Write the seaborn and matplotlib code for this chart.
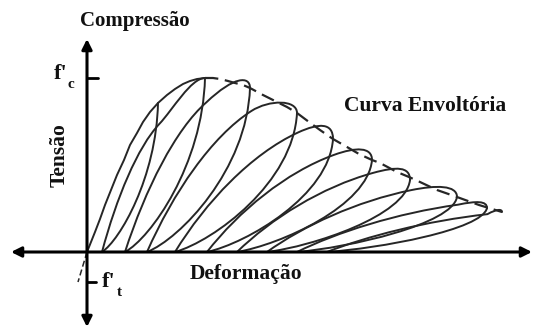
import numpy as np
import pandas as pd
import matplotlib
matplotlib.use("Agg")
import matplotlib.pyplot as plt
from matplotlib.path import Path
from matplotlib.patches import PathPatch
import seaborn as sns

# Envelope curve (strain, stress) in drawing units
env_rise_x = [0, 4, 8, 13, 18, 24, 30, 37, 43, 50, 56, 63, 71, 80, 88, 96, 103, 110, 118]
env_rise_y = [0, 10, 20, 33, 47, 62, 77, 92, 107, 119, 130, 140, 149, 157, 163, 168, 171, 173, 174]
env_fall_x = [118, 126, 133, 141, 148, 156, 163, 176, 190, 200, 210, 222, 233, 246, 260, 272,
              285, 293, 310, 322, 333, 350, 370, 392, 415]
env_fall_y = [174, 174, 173, 171, 169, 167, 164, 157, 150, 145, 139, 130, 122, 113, 105, 98,
              92, 89, 80, 75, 70, 62, 55, 47, 40]
tension_x = [0, -9]
tension_y = [0, -30]

# Unloading points on the envelope and residual strains of each cycle
peak_x = [71, 118, 163, 210, 246, 285, 323, 370, 400, 415]
peak_y = [149, 174, 164, 139, 113, 92, 72, 55, 44, 40]
residual_x = [15, 38, 60, 88, 120, 150, 180, 210, 240]

fc_level = 174
ft_level = -30

LINE = "#262626"

sns.set_style("white")
fig = plt.figure(figsize=(5.34, 3.29), dpi=100)
ax = fig.add_axes([0, 0, 1, 1])
ax.set_xlim(-87, 447)
ax.set_ylim(-77, 252)
ax.axis("off")

serif = ["Liberation Serif", "DejaVu Serif"]
style = dict(edgecolor=LINE, lw=1.4, capstyle="round", joinstyle="round", fill=False, zorder=3)


def bezier_path(points):
    codes = [Path.MOVETO] + [Path.CURVE4] * (len(points) - 1)
    ax.add_patch(PathPatch(Path(points, codes), **style))


# unloading branches: leave the envelope vertically, flatten towards the residual strain
for k, xr in enumerate(residual_x):
    xt, yt = peak_x[k], peak_y[k]
    dx = xt - xr
    bezier_path([(xt, yt), (xt - 0.03 * dx, yt * 0.5), (xr + 0.32 * dx, yt * 0.08), (xr, 0)])

# reloading branches: near-straight rise, crossing below the last unloading point,
# then a rounded cap that meets the envelope at the next unloading point
for k, xr in enumerate(residual_x):
    xa, ya = peak_x[k], peak_y[k]
    xb, yb = peak_x[k + 1], peak_y[k + 1]
    gap = xb - xa
    xc, yc = xa + 0.03 * gap, 0.86 * ya
    p1 = (xr + 0.25 * (xc - xr), 0.42 * yc)
    p2 = (xr + 0.62 * (xc - xr), 0.82 * yc)
    tx, ty = xc - p2[0], yc - p2[1]
    if yb >= ya:
        q1 = (xc + tx * 0.6, yc + ty * 0.6)
        q2 = (xb - 0.3 * gap, yb)
    else:
        h = max(yc, yb) + 0.07 * ya
        s = (h - yc) / ty
        q1 = (min(xc + tx * s, xb - 0.35 * gap), h)
        q2 = (xb, h)
    bezier_path([(xr, 0), p1, p2, (xc, yc), q1, q2, (xb, yb)])

env_rise = pd.DataFrame({"x": env_rise_x, "y": env_rise_y})
env_fall = pd.DataFrame({"x": env_fall_x, "y": env_fall_y})
sns.lineplot(data=env_rise, x="x", y="y", sort=False, estimator=None, color=LINE, lw=1.4, ax=ax, zorder=4)
sns.lineplot(data=env_fall, x="x", y="y", sort=False, estimator=None, color=LINE, lw=1.6,
             ax=ax, zorder=4, linestyle=(0, (6, 3)))
ax.plot(tension_x, tension_y, color=LINE, lw=1.1, linestyle=(0, (4, 2)), zorder=3)

# axes with arrowheads
arrow = dict(arrowstyle="-|>,head_length=0.6,head_width=0.3", color="black", lw=2.2, shrinkA=0, shrinkB=0)
ax.annotate("", xy=(0, 213), xytext=(0, 0), arrowprops=arrow, zorder=5)
ax.annotate("", xy=(0, -75), xytext=(0, 0), arrowprops=arrow, zorder=5)
ax.annotate("", xy=(-76, 0), xytext=(0, 0), arrowprops=arrow, zorder=5)
ax.annotate("", xy=(445, 0), xytext=(0, 0), arrowprops=arrow, zorder=5)

ax.plot([0, 11], [fc_level, fc_level], color="black", lw=2, zorder=5)
ax.plot([0, 9], [ft_level, ft_level], color="black", lw=2, zorder=5)

txt = dict(family=serif, fontweight="bold", color="#111111")
ax.text(48, 231, "Compressão", ha="center", va="center", fontsize=15, **txt)
ax.text(-20, 178, "f'", ha="right", va="center", fontsize=16, **txt)
ax.text(-19, 168, "c", ha="left", va="center", fontsize=11, **txt)
ax.text(15, -30, "f'", ha="left", va="center", fontsize=16, **txt)
ax.text(30, -41, "t", ha="left", va="center", fontsize=11, **txt)
ax.text(-27, 97, "Tensão", ha="center", va="center", rotation=90, fontsize=15.5, **txt)
ax.text(159, -22, "Deformação", ha="center", va="center", fontsize=15.5, **txt)
ax.text(338, 146, "Curva Envoltória", ha="center", va="center", fontsize=15.5, **txt)

fig.savefig("out.png", dpi=100)
